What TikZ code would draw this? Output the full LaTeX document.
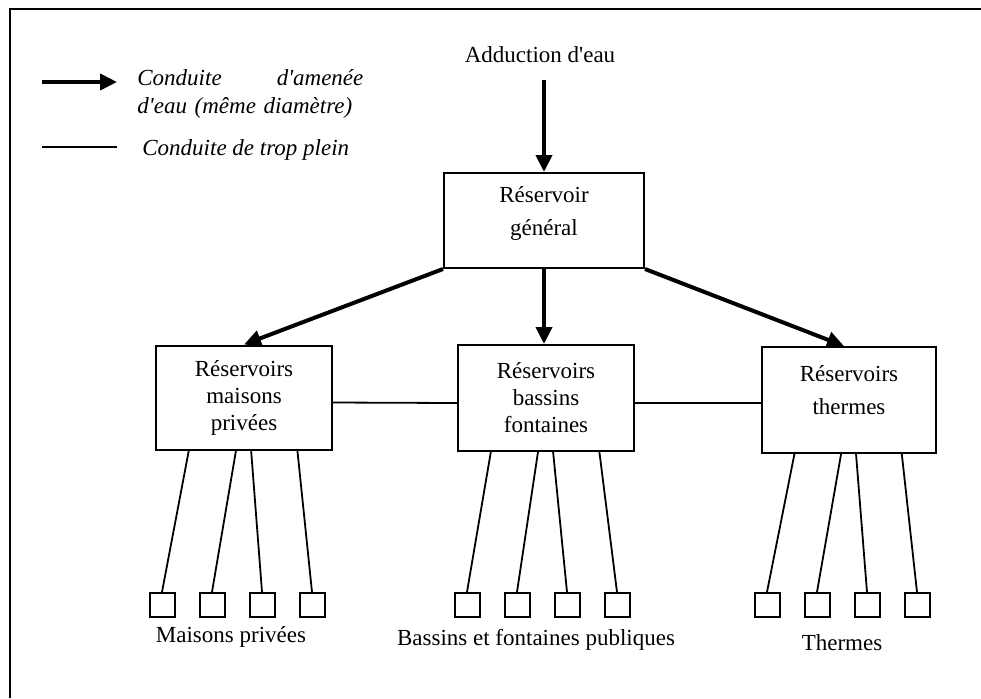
\documentclass[tikz,border=0pt]{standalone}
\usepackage{fontspec}
\setmainfont{Liberation Serif}[Ligatures=TeXOff]
\usetikzlibrary{arrows.meta, positioning, calc}

\begin{document}
\begin{tikzpicture}[x=0.5pt, y=-0.5pt,
		font=\fontsize{11.5}{13.5}\selectfont,
		res/.style={draw, line width=1pt, minimum width=88pt, minimum height=52pt, align=center, inner sep=2pt},
		sq/.style={draw, line width=1pt, minimum width=12.5pt, minimum height=12pt, inner sep=0pt},
		feed/.style={line width=2pt, -{Triangle[length=8.5pt,width=8pt]}},
		over/.style={line width=0.9pt}]
	\useasboundingbox (0,0) rectangle (981,698);
	\draw[line width=1.2pt] (10,698) -- (10,9) -- (981,9);

	% legende
	\coordinate (la) at (42,82);
	\coordinate (lb) at (117,82);
	\draw[feed] (la) -- (lb);
	\node[anchor=west, text width=113pt, inner sep=0pt, font=\itshape\fontsize{11.5}{14}\selectfont] (lamenee) at (137,94) {Conduite \hfill d'amenée\\ d'eau (même diamètre)};
	\coordinate (lc) at (42,147);
	\coordinate (ld) at (117,147);
	\draw[over] (lc) -- (ld);
	\node[anchor=west, inner sep=0pt, font=\itshape\fontsize{11.5}{13.5}\selectfont] (ltrop) at (142,150) {Conduite de trop plein};

	% reservoirs
	\node (add) at (540,55) {Adduction d'eau};
	\node[res, minimum width=100pt, minimum height=47.5pt, text depth=9.5pt] (gen) at (544,220.5) {Réservoir\\[3pt] général};
	\node[res] (rm) at (244,397.5) {Réservoirs\\ maisons\\ privées};
	\node[res, minimum height=53pt] (rb) at (546,398) {Réservoirs\\ bassins\\ fontaines};
	\node[res, minimum width=87pt, minimum height=53pt, text depth=10pt] (rt) at (849,400) {Réservoirs\\[3pt] thermes};

	\draw[feed, shorten <=5pt] (gen.north |- add.south) -- (gen.north);
	\draw[feed] (gen.south west) -- (rm.north);
	\draw[feed] (gen.south) -- (gen.south |- rb.north);
	\draw[feed] (gen.south east) -- ($(rt.north)+(-5,0)$);
	\draw[over] ($(rm.east)+(0,5)$) -- ($(rb.west)+(0,5)$);
	\draw[over] ($(rb.east)+(0,5)$) -- ($(rt.west)+(0,3)$);

	% sorties
	\foreach \g/\x in {m/162, b/467, t/767}
		\foreach \i in {1,...,4}
			\node[sq] (\g\i) at ({\x+50*(\i-1)},605) {};
	\foreach \r/\g in {rm/m, rb/b, rt/t}
		\foreach \f [count=\i] in {0.19,0.455,0.54,0.8}
			\draw[over] ($(\r.south west)!\f!(\r.south east)$) -- (\g\i.north);

	\node (lmais) at (231,637) {Maisons privées};
	\node (lbass) at (536,640) {Bassins et fontaines publiques};
	\node (lth) at (842,643) {Thermes};
\end{tikzpicture}
\end{document}
